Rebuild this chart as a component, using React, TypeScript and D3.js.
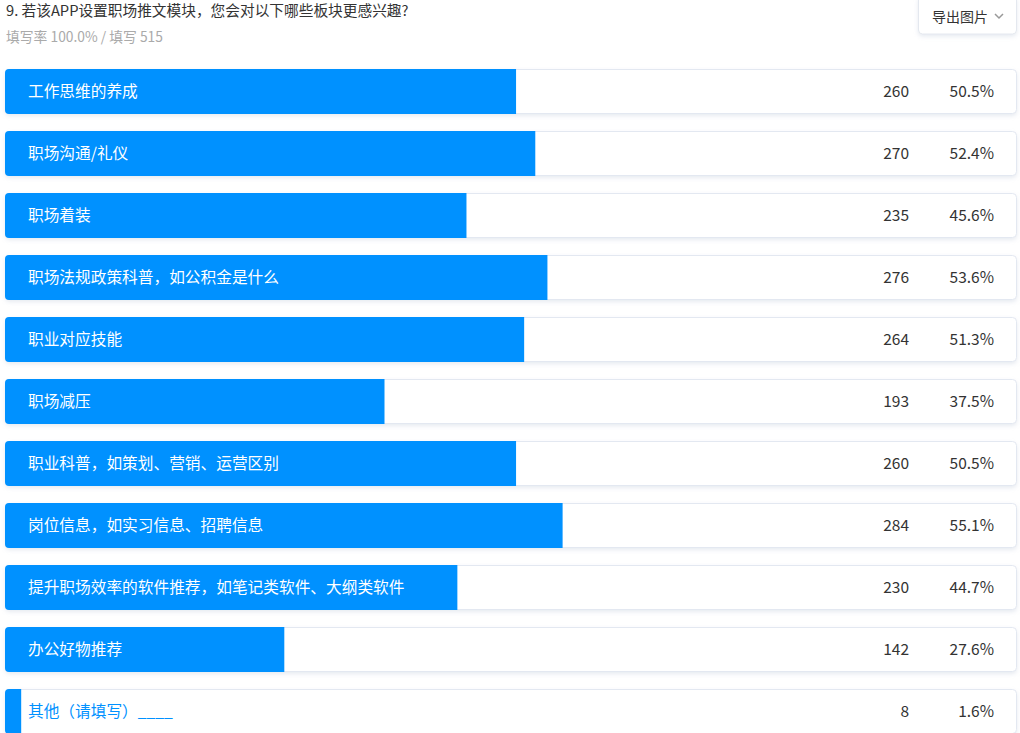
import React from "react";
import * as d3 from "d3";

const title = "9. 若该APP设置职场推文模块，您会对以下哪些板块更感兴趣?";
const subtitle = "填写率 100.0% / 填写 515";
const buttonLabel = "导出图片";

const categories = [
  "工作思维的养成",
  "职场沟通/礼仪",
  "职场着装",
  "职场法规政策科普，如公积金是什么",
  "职业对应技能",
  "职场减压",
  "职业科普，如策划、营销、运营区别",
  "岗位信息，如实习信息、招聘信息",
  "提升职场效率的软件推荐，如笔记类软件、大纲类软件",
  "办公好物推荐",
  "其他（请填写）____",
];
const counts = [260, 270, 235, 276, 264, 193, 260, 284, 230, 142, 8];
const percents = [50.5, 52.4, 45.6, 53.6, 51.3, 37.5, 50.5, 55.1, 44.7, 27.6, 1.6];

const W = 1020;
const H = 733;
const FONT = "'Microsoft YaHei', 'Noto Sans CJK SC', 'Noto Sans', sans-serif";
const BLUE = "#0091ff";

export default function App() {
  const boxX = 5;
  const boxW = 1012;
  const rowH = 44;
  const x = d3.scaleLinear().domain([0, 100]).range([0, boxW]);
  const y = d3.scaleLinear().domain([0, 1]).range([69, 131]);

  return (
    <svg
      width={W}
      height={H}
      style={{ position: "absolute", left: 0, top: 0, background: "#fff", fontFamily: FONT }}
    >
      <defs>
        <filter id="sh" x="-5%" y="-30%" width="110%" height="170%">
          <feDropShadow dx="0" dy="2" stdDeviation="2" floodColor="#b8c4d6" floodOpacity="0.35" />
        </filter>
        {categories.map((_, i) => (
          <clipPath id={`clip${i}`} key={i}>
            <rect x={boxX} y={y(i)} width={x(percents[i])} height={rowH + 1} />
          </clipPath>
        ))}
      </defs>
      <text x={6} y={16} fontSize={14.7} fill="#333">
        {title}
      </text>
      <text x={6} y={42} fontSize={13.8} fill="#aaa">
        {subtitle}
      </text>

      <g>
        <rect x={918.5} y={-4} width={98} height={38} rx={4} fill="#fff" stroke="#e4e8ef" filter="url(#sh)" />
        <text x={932} y={22} fontSize={14} fill="#333">
          {buttonLabel}
        </text>
        <path d="M995,14 L999,18 L1003,14" fill="none" stroke="#999" strokeWidth={1.5} />
      </g>

      {categories.map((c, i) => {
        const y0 = y(i);
        const cy = y0 + rowH / 2 + 0.5;
        const bw = x(percents[i]);
        return (
          <g key={i}>
            <rect
              x={boxX + 0.5}
              y={y0 + 0.5}
              width={boxW - 1}
              height={rowH}
              rx={4}
              fill="#fff"
              stroke="#e3e8f1"
              filter="url(#sh)"
            />
            <path
              d={`M${boxX + bw},${y0} H${boxX + 4} Q${boxX},${y0} ${boxX},${y0 + 4} V${y0 + rowH + 1 - 4} Q${boxX},${y0 + rowH + 1} ${boxX + 4},${y0 + rowH + 1} H${boxX + bw} Z`}
              fill={BLUE}
            />
            <text x={28} y={cy} dy="0.36em" fontSize={15.7} fill={BLUE}>
              {c}
            </text>
            <text x={28} y={cy} dy="0.36em" fontSize={15.7} fill="#fff" clipPath={`url(#clip${i})`}>
              {c}
            </text>
            <text x={909} y={cy} dy="0.36em" fontSize={15.5} fill="#333" textAnchor="end">
              {counts[i]}
            </text>
            <text x={994} y={cy} dy="0.36em" fontSize={15.5} fill="#333" textAnchor="end">
              {percents[i].toFixed(1)}%
            </text>
          </g>
        );
      })}
    </svg>
  );
}
